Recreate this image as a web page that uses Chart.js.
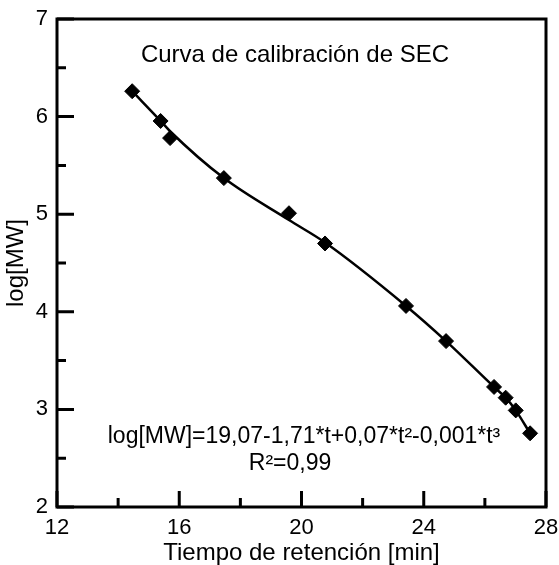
<!DOCTYPE html>
<html>
<head>
<meta charset="utf-8">
<script src="https://cdn.jsdelivr.net/npm/chart.js@4"></script>
<style>
  html, body { margin: 0; padding: 0; background: #fff; }
  #wrap { width: 559px; height: 565px; }
</style>
</head>
<body>
<div id="wrap"><canvas id="myChart" width="559" height="565"></canvas></div>
<script>
// retention time (min) and log of molecular weight for the standards
var tiempo = [14.46, 15.39, 15.70, 17.46, 19.59, 20.77, 23.42, 24.73, 26.30, 26.68, 27.01, 27.48];
var logMW = [6.26, 5.955, 5.78, 5.37, 5.01, 4.70, 4.06, 3.70, 3.23, 3.12, 2.99, 2.755];

// calibration curve (cubic fit) at the same retention times
var logAjuste = [6.26, 5.955, 5.85, 5.37, 4.94, 4.71, 4.06, 3.70, 3.23, 3.12, 2.99, 2.755];

var xTicks = [12, 16, 20, 24, 28];
var yTicks = [2, 3, 4, 5, 6, 7];
var xMinor = [14, 18, 22, 26];
var yMinor = [2.5, 3.5, 4.5, 5.5, 6.5];

var FONT = '"Liberation Sans", Arial, sans-serif';

var puntos = tiempo.map(function(t, i) { return { x: t, y: logMW[i] }; });
var curva = tiempo.map(function(t, i) { return { x: t, y: logAjuste[i] }; });

// frame, inward ticks and the text inside the plot
var marco = {
  id: 'marco',
  afterDraw: function(chart) {
    var ctx = chart.ctx;
    var a = chart.chartArea;
    var xs = chart.scales.x, ys = chart.scales.y;
    ctx.save();
    ctx.strokeStyle = '#000';
    ctx.lineWidth = 3;
    ctx.strokeRect(a.left, a.top, a.right - a.left, a.bottom - a.top);

    ctx.beginPath();
    xTicks.forEach(function(v) {
      var px = xs.getPixelForValue(v);
      ctx.moveTo(px, a.bottom); ctx.lineTo(px, a.bottom - 16);
    });
    xMinor.forEach(function(v) {
      var px = xs.getPixelForValue(v);
      ctx.moveTo(px, a.bottom); ctx.lineTo(px, a.bottom - 9);
    });
    yTicks.forEach(function(v) {
      var py = ys.getPixelForValue(v);
      ctx.moveTo(a.left, py); ctx.lineTo(a.left + 17, py);
    });
    yMinor.forEach(function(v) {
      var py = ys.getPixelForValue(v);
      ctx.moveTo(a.left, py); ctx.lineTo(a.left + 9, py);
    });
    ctx.stroke();

    ctx.fillStyle = '#000';
    ctx.textAlign = 'center';
    ctx.textBaseline = 'alphabetic';
    ctx.font = '24px ' + FONT;
    ctx.fillText('Curva de calibración de SEC', a.left + 238, a.top + 43);
    ctx.font = '23px ' + FONT;
    ctx.fillText('log[MW]=19,07-1,71*t+0,07*t²-0,001*t³', a.left + 247, a.top + 424);
    ctx.fillText('R²=0,99', a.left + 233, a.top + 451);
    ctx.restore();
  }
};

window.onload = function() {
  var ctx = document.getElementById('myChart').getContext('2d');
  window.myChart = new Chart(ctx, {
    type: 'scatter',
    data: {
      datasets: [{
        label: 'ajuste',
        data: curva,
        showLine: true,
        cubicInterpolationMode: 'monotone',
        borderColor: '#000',
        borderWidth: 2.5,
        pointRadius: 0
      }, {
        label: 'log[MW]',
        data: puntos,
        showLine: false,
        backgroundColor: '#000',
        pointStyle: 'rectRot',
        pointRadius: 7.5,
        pointBorderWidth: 1,
        pointBorderColor: '#000',
        pointBackgroundColor: '#000'
      }]
    },
    options: {
      responsive: false,
      animation: false,
      layout: { padding: { top: 19, right: 13, left: 0, bottom: 0 } },
      plugins: { legend: { display: false }, tooltip: { enabled: false } },
      scales: {
        x: {
          type: 'linear',
          min: 12, max: 28,
          afterBuildTicks: function(s) { s.ticks = xTicks.map(function(v) { return { value: v }; }); },
          afterFit: function(s) { s.height = 58; s.paddingLeft = 0; s.paddingRight = 0; },
          grid: { display: false, drawTicks: false },
          border: { display: false },
          ticks: { color: '#000', padding: 8, maxRotation: 0, font: { family: FONT, size: 22 } },
          title: {
            display: true, text: 'Tiempo de retención [min]', color: '#000',
            padding: { top: 0, bottom: -3 },
            font: { family: FONT, size: 24 }
          }
        },
        y: {
          type: 'linear',
          min: 2, max: 7,
          afterBuildTicks: function(s) { s.ticks = yTicks.map(function(v) { return { value: v }; }); },
          afterFit: function(s) { s.width = 57; s.paddingTop = 0; s.paddingBottom = 0; },
          grid: { display: false, drawTicks: false },
          border: { display: false },
          ticks: { color: '#000', padding: 9, font: { family: FONT, size: 22 } },
          title: {
            display: true, text: 'log[MW]', color: '#000',
            padding: { top: 2, bottom: 0 },
            font: { family: FONT, size: 24 }
          }
        }
      }
    },
    plugins: [marco]
  });
};
</script>
</body>
</html>
